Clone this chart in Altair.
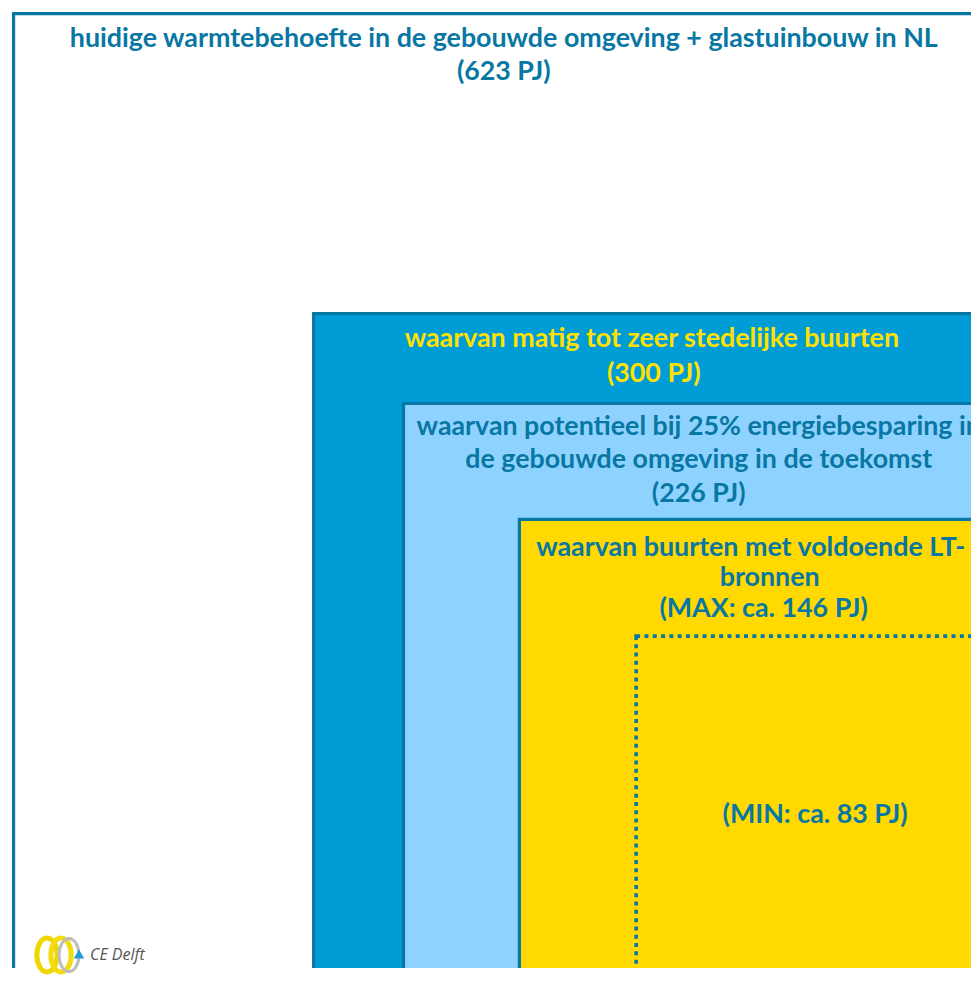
import math
import altair as alt
import pandas as pd

# ---- data ----
box_pj = [623, 300, 226, 146]          # solid nested squares (area ~ PJ)
box_names = ["totaal", "stedelijk", "potentieel", "max"]
min_pj = [83]                           # dotted square

label_pj = [623, 623, 300, 300, 226, 226, 226, 146, 146, 146]
label_line = [0, 1, 0, 1, 0, 1, 2, 0, 1, 2]
label_text = [
    "huidige warmtebehoefte in de gebouwde omgeving + glastuinbouw in NL",
    "(623 PJ)",
    "waarvan matig tot zeer stedelijke buurten",
    "(300 PJ)",
    "waarvan potentieel bij 25% energiebesparing in",
    "de gebouwde omgeving in de toekomst",
    "(226 PJ)",
    "waarvan buurten met voldoende LT-",
    "bronnen",
    "(MAX: ca. 146 PJ)",
]
min_text = ["(MIN: ca. 83 PJ)"]

# ---- styles ----
DARK = "#0877A3"
fill_range = ["#FFFFFF", "#009CD6", "#8ED3FF", "#FFD900"]
text_color = {623: DARK, 300: "#FFE100", 226: DARK, 146: DARK}
first_pad = {623: 33.5, 300: 33.5, 226: 31.5, 146: 36.5}
line_gap = {623: 33, 300: 34.5, 226: 33.5, 146: 30.5}
label_nudge = [0, 0, -2, 0, 0, 0, 0, -6, 13, 7]   # px horizontal nudge per line
FS = 26.8

W, H = 963, 960
K = 39.28                      # px per sqrt(PJ)
D_MAX = 986 / K
xdom = [D_MAX - W / K, D_MAX]
ydom = [D_MAX - H / K, D_MAX]

boxes = pd.DataFrame({"pj": box_pj, "name": box_names})
boxes["side"] = boxes["pj"].map(math.sqrt)
boxes["corner"] = 0.0

mins = pd.DataFrame({"pj": min_pj, "text": min_text})
mins["side"] = mins["pj"].map(math.sqrt)
mins["corner"] = 0.0
mins["mid"] = mins["side"] / 2

labels = pd.DataFrame({"pj": label_pj, "line": label_line, "text": label_text})
labels["xmid"] = labels["pj"].map(math.sqrt) / 2 - pd.Series(label_nudge) / K
labels["ypos"] = [math.sqrt(p) - (first_pad[p] + l * line_gap[p]) / K
                  for p, l in zip(labels["pj"], labels["line"])]
labels["col"] = [str(p) for p in labels["pj"]]

xs = alt.Scale(domain=xdom, reverse=True, nice=False, zero=False)
ys = alt.Scale(domain=ydom, nice=False, zero=False)

rects = alt.Chart(boxes).mark_rect(
    stroke=DARK, strokeWidth=3.2, clip=True
).encode(
    x=alt.X("side:Q", scale=xs, axis=None),
    x2="corner:Q",
    y=alt.Y("side:Q", scale=ys, axis=None),
    y2="corner:Q",
    fill=alt.Fill("name:N", scale=alt.Scale(domain=box_names, range=fill_range), legend=None),
    order=alt.Order("pj:Q", sort="descending"),
)

dotted = alt.Chart(mins).mark_rect(
    fill=None, filled=False, stroke=DARK, strokeWidth=3.6, strokeDash=[4, 4.3], clip=True
).encode(
    x=alt.X("side:Q", scale=xs, axis=None),
    x2="corner:Q",
    y=alt.Y("side:Q", scale=ys, axis=None),
    y2="corner:Q",
)

texts = alt.Chart(labels).mark_text(
    font="Lato", fontWeight="bold", fontSize=FS, align="center", baseline="alphabetic", clip=True
).encode(
    x=alt.X("xmid:Q", scale=xs, axis=None),
    y=alt.Y("ypos:Q", scale=ys, axis=None),
    text="text:N",
    color=alt.Color("col:N", scale=alt.Scale(domain=[str(k) for k in text_color],
                                               range=list(text_color.values())), legend=None),
)

min_label = alt.Chart(mins).mark_text(
    font="Lato", fontWeight="bold", fontSize=FS, align="center", baseline="middle", color=DARK,
    clip=True
).encode(
    x=alt.X("mid:Q", scale=xs, axis=None),
    y=alt.Y("mid:Q", scale=ys, axis=None),
    text="text:N",
)

# ---- CE Delft logo (decorative) ----
ring = "M-0.6,0 A0.6,1 0 1,0 0.6,0 A0.6,1 0 1,0 -0.6,0 Z"
logo_df = pd.DataFrame({"k": [0]})
ring1 = alt.Chart(logo_df).mark_point(shape=ring, size=1150, filled=False, stroke="#EFD600",
                                      strokeWidth=5, opacity=1).encode(x=alt.value(39), y=alt.value(947))
ring3 = alt.Chart(logo_df).mark_point(shape=ring, size=1150, filled=False, stroke="#F2DC10",
                                      strokeWidth=5, opacity=1).encode(x=alt.value(53), y=alt.value(947))
ring2 = alt.Chart(logo_df).mark_point(shape=ring, size=1100, filled=False, stroke="#BDBDBD",
                                      strokeWidth=3, opacity=1).encode(x=alt.value(61), y=alt.value(947))
tri = alt.Chart(logo_df).mark_point(shape="triangle-up", size=110, filled=True, color="#1F9BD7",
                                    opacity=1).encode(x=alt.value(71), y=alt.value(946))
logo_text = alt.Chart(logo_df).mark_text(text="CE Delft", font="Open Sans", fontStyle="italic",
                                         fontSize=16, color="#555555", align="left",
                                         baseline="alphabetic").encode(x=alt.value(82), y=alt.value(952))

chart = alt.layer(rects, dotted, texts, min_label, ring1, ring3, ring2, tri, logo_text).properties(
    width=W, height=H, padding=0, background="white"
).configure_view(stroke=None)

chart.save("out.html", embed_options={"renderer": "svg", "actions": False})
